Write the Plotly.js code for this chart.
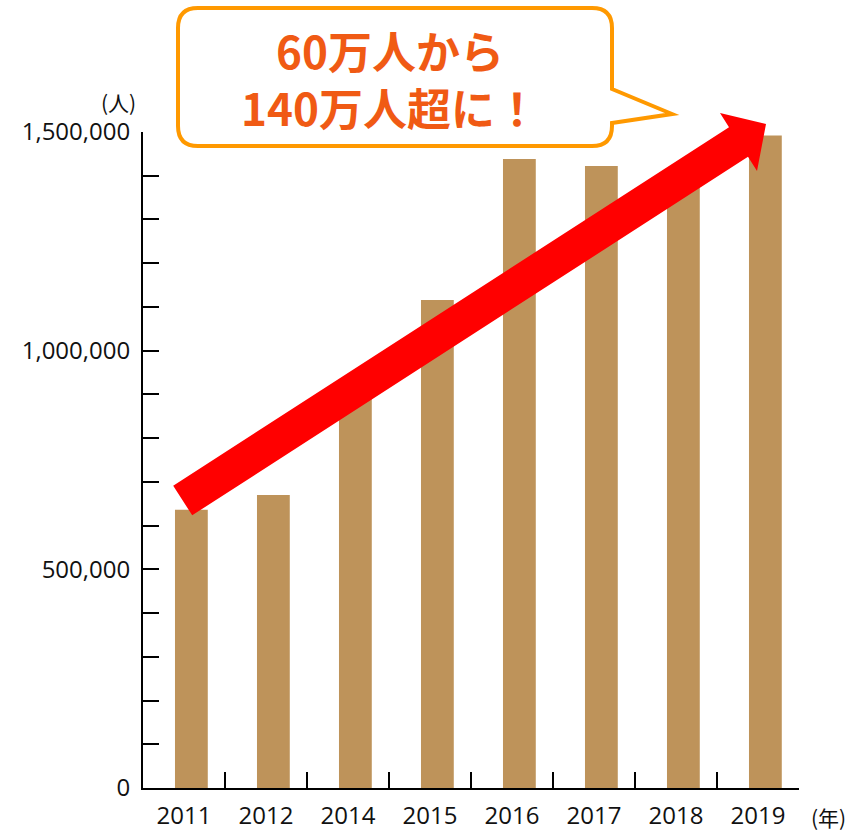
<!DOCTYPE html>
<html>
<head>
<meta charset="utf-8">
<script src="https://cdn.plot.ly/plotly-3.0.1.min.js"></script>
<style>html,body{margin:0;padding:0;background:#fff;}#chart{width:846px;height:833px;}</style>
</head>
<body>
<div id="chart"></div>
<script>
// ---- data ----
const years = ["2011", "2012", "2014", "2015", "2016", "2017", "2018", "2019"];
const visitors = [636000, 670000, 910000, 1116000, 1438000, 1422000, 1390000, 1492000];
const yTickVals = [0, 500000, 1000000, 1500000];
const yTickText = ["0", "500,000", "1,000,000", "1,500,000"];
const headline1 = "60万人から";
const headline2 = "140万人超に！";
const yUnit = "(人)";
const xUnit = "(年)";

// ---- layout geometry (pixels) ----
const W = 846, H = 833;
const M = {l: 143, r: 47, t: 132, b: 45};
const PW = W - M.l - M.r, PH = H - M.t - M.b;
const px = X => (X - M.l) / PW;
const py = Y => (H - M.b - Y) / PH;
const P = (X, Y) => px(X).toFixed(5) + "," + py(Y).toFixed(5);

// arrow polygon
const arrowPts = [[173.2,485.7],[729,127.2],[720,113],[766,124],[757,171],[748,156.8],[192.2,515.3]];
const arrowPath = "M" + arrowPts.map(p => P(p[0], p[1])).join(" L") + " Z";

// speech bubble
const bubblePath =
  "M" + P(198,8) + " L" + P(592,8) + " Q" + P(612,8) + " " + P(612,28) +
  " L" + P(612,89) + " L" + P(672,114) + " L" + P(612,123) + " L" + P(612,126) +
  " Q" + P(612,146) + " " + P(592,146) + " L" + P(198,146) +
  " Q" + P(178,146) + " " + P(178,126) + " L" + P(178,28) +
  " Q" + P(178,8) + " " + P(198,8) + " Z";

const numFont = {family: "Open Sans, Noto Sans, sans-serif", size: 24, color: "#111"};
const jpFont = {family: "Noto Sans CJK JP, sans-serif", size: 21, color: "#111"};
const headFont = {family: "Noto Sans CJK JP, sans-serif", size: 44, color: "#F05A14", weight: 700};

const data = [{
  type: "bar",
  x: years,
  y: visitors,
  width: 0.4,
  offset: -0.11,
  marker: {color: "#BE935A"},
  hoverinfo: "skip"
}];

const layout = {
  width: W, height: H,
  margin: M,
  paper_bgcolor: "#fff",
  plot_bgcolor: "#fff",
  showlegend: false,
  xaxis: {
    type: "category",
    range: [-0.5, 7.5],
    showline: true, linecolor: "#000", linewidth: 2,
    ticks: "inside", ticklen: 16, tickwidth: 2, tickcolor: "#000",
    tickson: "boundaries",
    showgrid: false, zeroline: false,
    tickfont: numFont,
    ticklabelstandoff: 5,
    fixedrange: true
  },
  yaxis: {
    range: [0, 1500000],
    showline: true, linecolor: "#000", linewidth: 2,
    ticks: "inside", ticklen: 16, tickwidth: 2, tickcolor: "#000",
    tickvals: yTickVals, ticktext: yTickText,
    minor: {dtick: 100000, ticks: "inside", ticklen: 16, tickwidth: 2, tickcolor: "#000", showgrid: false},
    showgrid: false, zeroline: false,
    tickfont: numFont,
    ticklabelstandoff: 6,
    fixedrange: true
  },
  shapes: [
    {type: "path", xref: "paper", yref: "paper", path: arrowPath,
     fillcolor: "#FF0000", line: {width: 0}, layer: "above"},
    {type: "path", xref: "paper", yref: "paper", path: bubblePath,
     fillcolor: "#FFFFFF", line: {color: "#FF9900", width: 4}, layer: "above"}
  ],
  annotations: [
    {xref: "paper", yref: "paper", x: px(390), y: py(79), text: headline1 + "<br>" + headline2,
     showarrow: false, align: "center",
     xanchor: "center", yanchor: "middle", font: headFont},
    {xref: "paper", yref: "paper", x: px(118), y: py(102), text: yUnit, showarrow: false,
     xanchor: "center", yanchor: "middle", font: jpFont},
    {xref: "paper", yref: "paper", x: px(828), y: py(817), text: xUnit, showarrow: false,
     xanchor: "center", yanchor: "middle", font: jpFont}
  ]
};

Plotly.newPlot("chart", data, layout, {displayModeBar: false, staticPlot: true});
</script>
</body>
</html>
